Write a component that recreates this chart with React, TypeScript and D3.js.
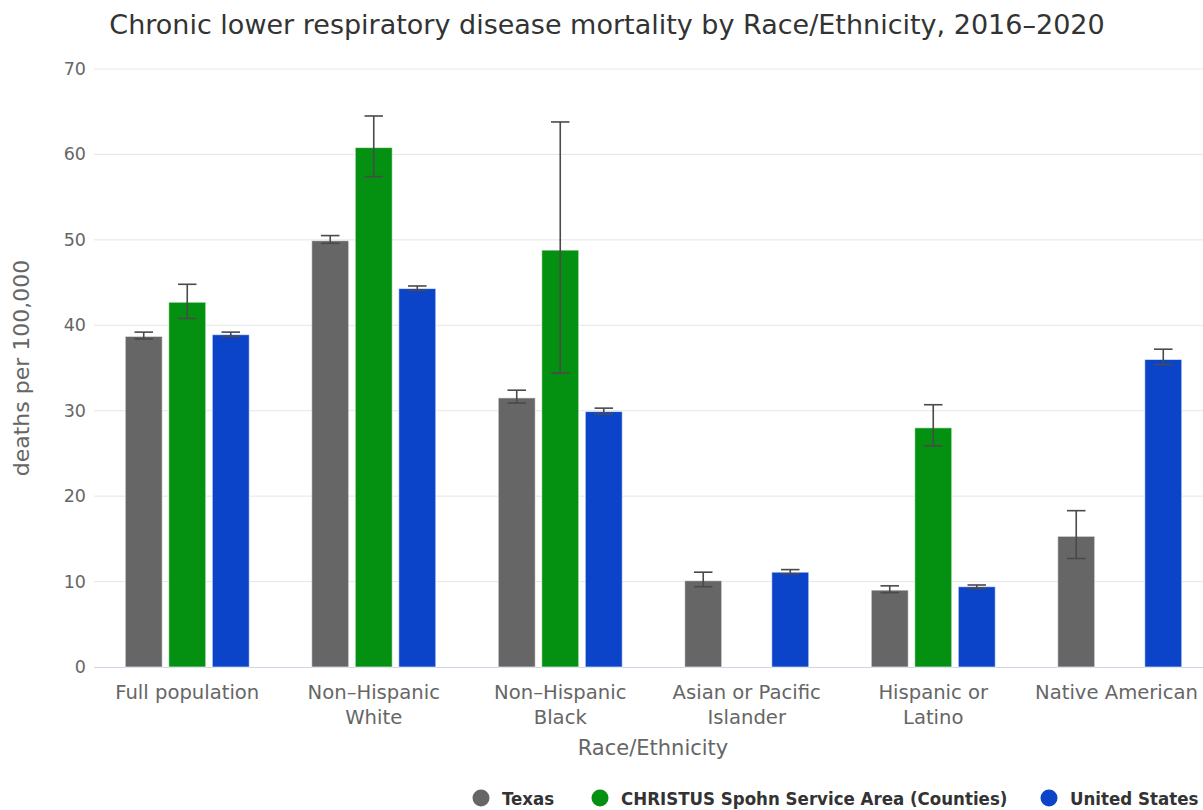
import React from "react";
import * as d3 from "d3";

const categories = [
  "Full population",
  "Non-Hispanic White",
  "Non-Hispanic Black",
  "Asian or Pacific Islander",
  "Hispanic or Latino",
  "Native American",
];
const categoryLines = [
  ["Full population"],
  ["Non\u2013Hispanic", "White"],
  ["Non\u2013Hispanic", "Black"],
  ["Asian or Pacific", "Islander"],
  ["Hispanic or", "Latino"],
  ["Native American"],
];
const seriesNames = ["Texas", "CHRISTUS Spohn Service Area (Counties)", "United States"];
const seriesColors = ["#666666", "#049111", "#0c44c9"];

const texasValues = [38.7, 49.9, 31.5, 10.1, 9.0, 15.3];
const texasLow = [38.4, 49.6, 30.9, 9.4, 8.7, 12.7];
const texasHigh = [39.2, 50.5, 32.4, 11.1, 9.5, 18.3];

const spohnValues = [42.7, 60.8, 48.8, null, 28.0, null];
const spohnLow = [40.8, 57.4, 34.4, null, 25.9, null];
const spohnHigh = [44.8, 64.5, 63.8, null, 30.7, null];

const usValues = [38.9, 44.3, 29.9, 11.1, 9.4, 36.0];
const usLow = [38.7, 44.1, 29.6, 10.9, 9.2, 35.4];
const usHigh = [39.2, 44.6, 30.3, 11.4, 9.6, 37.2];

const yTicks = [0, 10, 20, 30, 40, 50, 60, 70];

const seriesValues = [texasValues, spohnValues, usValues];
const seriesLow = [texasLow, spohnLow, usLow];
const seriesHigh = [texasHigh, spohnHigh, usHigh];

const W = 1203;
const H = 810;
const FONT = "'DejaVu Sans', 'Lucida Grande', sans-serif";
const XLABEL_SIZE = 19.6;

function measure(text: string, size: number): number {
  if (typeof document === "undefined") return text.length * size * 0.6;
  const c = document.createElement("canvas").getContext("2d");
  if (!c) return text.length * size * 0.6;
  c.font = `${size}px 'DejaVu Sans', sans-serif`;
  return c.measureText(text).width;
}

export default function App() {
  const x0 = d3
    .scaleBand<string>()
    .domain(categories)
    .range([94, 1213])
    .paddingInner(0.335)
    .paddingOuter(0.1675);
  const x1 = d3
    .scaleBand<string>()
    .domain(seriesNames)
    .range([0, x0.bandwidth()])
    .paddingInner(0.15);
  const y = d3.scaleLinear().domain([0, 70]).range([667, 69]);

  const bars: React.ReactNode[] = [];
  const errs: React.ReactNode[] = [];
  seriesNames.forEach((s, si) => {
    categories.forEach((c, ci) => {
      const v = seriesValues[si][ci];
      if (v == null) return;
      const bx = (x0(c) as number) + (x1(s) as number);
      const bw = x1.bandwidth();
      bars.push(
        <rect
          key={`b-${si}-${ci}`}
          x={bx}
          y={y(v)}
          width={bw}
          height={y(0) - y(v)}
          fill={seriesColors[si]}
          stroke="#ffffff"
          strokeOpacity={0.6}
          strokeWidth={1}
        />
      );
      const lo = seriesLow[si][ci] as number;
      const hi = seriesHigh[si][ci] as number;
      const cx = bx + bw / 2;
      const cw = bw / 2;
      errs.push(
        <g key={`e-${si}-${ci}`} stroke="#4a4a4a" strokeWidth={1.6} fill="none">
          <line x1={cx} x2={cx} y1={y(lo)} y2={y(hi)} />
          <line x1={cx - cw / 2} x2={cx + cw / 2} y1={y(lo)} y2={y(lo)} />
          <line x1={cx - cw / 2} x2={cx + cw / 2} y1={y(hi)} y2={y(hi)} />
        </g>
      );
    });
  });

  const legendX = [481, 600, 1049];

  return (
    <div style={{ position: "absolute", left: 0, top: 0 }}>
      <svg width={W} height={H} style={{ display: "block", background: "#ffffff" }}>
        <text
          x={607}
          y={34}
          textAnchor="middle"
          fontFamily={FONT}
          fontSize={27}
          fill="#333333"
        >
          Chronic lower respiratory disease mortality by Race/Ethnicity, 2016–2020
        </text>

        {yTicks.map((t) => (
          <g key={`t-${t}`}>
            {t !== 0 && (
              <line x1={94} x2={1213} y1={y(t)} y2={y(t)} stroke="#e6e6e6" strokeWidth={1} />
            )}
            <text
              x={86}
              y={y(t) + 6}
              textAnchor="end"
              fontFamily={FONT}
              fontSize={17.5}
              fill="#666666"
            >
              {t}
            </text>
          </g>
        ))}
        <line x1={94} x2={1213} y1={y(0) + 0.5} y2={y(0) + 0.5} stroke="#ccd6eb" strokeWidth={1} />

        <text
          transform={`translate(29, ${368}) rotate(-90)`}
          textAnchor="middle"
          fontFamily={FONT}
          fontSize={22}
          fill="#666666"
        >
          deaths per 100,000
        </text>

        {bars}
        {errs}

        {categories.map((c, ci) => {
          let cx = (x0(c) as number) + x0.bandwidth() / 2;
          const maxW = Math.max(...categoryLines[ci].map((l) => measure(l, XLABEL_SIZE)));
          if (cx + maxW / 2 > 1198) cx = 1198 - maxW / 2;
          return (
            <text
              key={`xl-${ci}`}
              x={cx}
              y={699}
              textAnchor="middle"
              fontFamily={FONT}
              fontSize={XLABEL_SIZE}
              fill="#666666"
            >
              {categoryLines[ci].map((ln, li) => (
                <tspan key={li} x={cx} dy={li === 0 ? 0 : 25}>
                  {ln}
                </tspan>
              ))}
            </text>
          );
        })}

        <text
          x={653}
          y={755}
          textAnchor="middle"
          fontFamily={FONT}
          fontSize={21}
          fill="#666666"
        >
          Race/Ethnicity
        </text>

        {seriesNames.map((s, si) => (
          <g key={`lg-${si}`}>
            <circle cx={legendX[si]} cy={798} r={8.5} fill={seriesColors[si]} />
            <text
              x={legendX[si] + 21}
              y={805}
              fontFamily="'DejaVu Sans Condensed', 'DejaVu Sans', sans-serif"
              fontStretch="condensed"
              fontWeight="bold"
              fontSize={18.5}
              fill="#333333"
            >
              {s}
            </text>
          </g>
        ))}
      </svg>
    </div>
  );
}
